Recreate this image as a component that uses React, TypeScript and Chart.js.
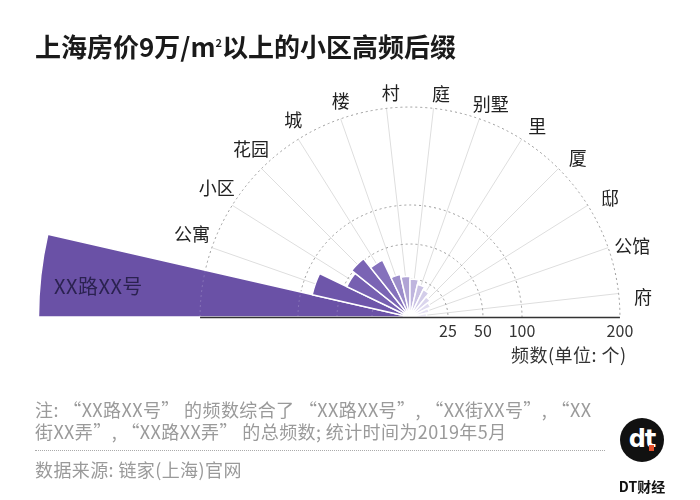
import React, { useEffect, useRef } from "react";
import { Chart, registerables } from "chart.js";

Chart.register(...registerables);

// ---- data ----
const categories = ["XX路XX号", "公寓", "小区", "花园", "城", "楼", "村", "庭", "别墅", "里", "厦", "邸", "公馆", "府"];
const frequencies = [365, 85, 48, 52, 43, 29, 27, 25, 22, 20, 17, 15, 13, 11];
const wedgeColors = [
  "#6a51a6", "#6e56aa", "#7760b1", "#7a64b4", "#8571bc", "#9c8dca", "#b0a4d5",
  "#bfb5de", "#cac2e4", "#d3cde9", "#dad5ed", "#e0dcf0", "#e5e1f3", "#eae7f5",
];
const tickValues = [25, 50, 100, 200];
// the source uses an irregular radial axis: value breakpoints and where they sit on the axis
const axisValues = [0, 25, 50, 100, 200];
const axisStops = [0, 36.2, 69.5, 106.7, 200];
const AXIS_MAX = 362;

function toAxis(v: number): number {
  for (let i = 1; i < axisValues.length; i++) {
    if (v <= axisValues[i]) {
      const t = (v - axisValues[i - 1]) / (axisValues[i] - axisValues[i - 1]);
      return axisStops[i - 1] + t * (axisStops[i] - axisStops[i - 1]);
    }
  }
  const n = axisValues.length - 1;
  const slope = (axisStops[n] - axisStops[n - 1]) / (axisValues[n] - axisValues[n - 1]);
  return axisStops[n] + (v - axisValues[n]) * slope;
}

const FONT = '"Noto Sans CJK SC", "Noto Sans", sans-serif';

const fanPlugin = {
  id: "fanGrid",
  beforeDatasetsDraw(chart: any) {
    const s = chart.scales.r;
    const ctx = chart.ctx;
    const cx = s.xCenter;
    const cy = s.yCenter;
    const n = categories.length;
    const step = Math.PI / n;
    const rOuter = s.getDistanceFromCenterForValue(toAxis(tickValues[tickValues.length - 1]));
    ctx.save();
    ctx.strokeStyle = "#dedede";
    ctx.lineWidth = 1;
    for (let i = 0; i < n; i++) {
      const a = Math.PI + (i + 0.5) * step;
      ctx.beginPath();
      ctx.moveTo(cx, cy);
      ctx.lineTo(cx + Math.cos(a) * rOuter, cy + Math.sin(a) * rOuter);
      ctx.stroke();
    }
    ctx.setLineDash([2, 3]);
    ctx.strokeStyle = "#9a9a9a";
    tickValues.forEach((v) => {
      const r = s.getDistanceFromCenterForValue(toAxis(v));
      ctx.beginPath();
      ctx.arc(cx, cy, r, Math.PI, 2 * Math.PI);
      ctx.stroke();
    });
    ctx.restore();
  },
  afterDatasetsDraw(chart: any) {
    const s = chart.scales.r;
    const ctx = chart.ctx;
    const cx = s.xCenter;
    const cy = s.yCenter;
    const n = categories.length;
    const step = Math.PI / n;
    const rOuter = s.getDistanceFromCenterForValue(toAxis(tickValues[tickValues.length - 1]));
    ctx.save();
    // faint rings showing through the bars
    ctx.setLineDash([2, 3]);
    ctx.strokeStyle = "rgba(255,255,255,0.18)";
    ctx.lineWidth = 1;
    tickValues.forEach((v) => {
      const r = s.getDistanceFromCenterForValue(toAxis(v));
      ctx.beginPath();
      ctx.arc(cx, cy, r, Math.PI, Math.PI + step);
      ctx.stroke();
    });
    ctx.setLineDash([]);
    // baseline
    ctx.strokeStyle = "#333";
    ctx.lineWidth = 1.5;
    ctx.beginPath();
    ctx.moveTo(cx - rOuter, cy + 0.5);
    ctx.lineTo(cx + rOuter, cy + 0.5);
    ctx.stroke();
    // tick labels
    ctx.fillStyle = "#333";
    ctx.font = `16px ${FONT}`;
    ctx.textAlign = "center";
    ctx.textBaseline = "middle";
    tickValues.forEach((v) => {
      const r = s.getDistanceFromCenterForValue(toAxis(v));
      ctx.fillText(String(v), cx + r, cy + 14);
    });
    // category labels
    ctx.fillStyle = "#222";
    ctx.font = `18px ${FONT}`;
    for (let i = 1; i < n; i++) {
      const a = Math.PI + (i + 0.5) * step + (1.5 * Math.PI) / 180;
      const rr = rOuter + 14 + 10 * Math.abs(Math.cos(a));
      ctx.fillText(categories[i], cx + Math.cos(a) * rr, cy + Math.sin(a) * rr);
    }
    ctx.restore();
  },
};

export default function App() {
  const ref = useRef<HTMLCanvasElement | null>(null);
  useEffect(() => {
    if (!ref.current) return;
    const chart = new Chart(ref.current, {
      type: "polarArea",
      data: {
        labels: categories,
        datasets: [
          {
            data: frequencies.map(toAxis),
            backgroundColor: wedgeColors,
            borderColor: "#ffffff",
            borderWidth: 1.5,
            angle: 180 / categories.length,
            clip: false,
          } as any,
        ],
      },
      options: {
        responsive: false,
        animation: false,
        layout: { padding: 0 },
        plugins: { legend: { display: false }, tooltip: { enabled: false } },
        scales: {
          r: {
            min: 0,
            max: AXIS_MAX,
            startAngle: -90,
            grid: { display: false },
            angleLines: { display: false },
            ticks: { display: false },
            pointLabels: { display: false },
          },
        },
      } as any,
      plugins: [fanPlugin],
    });
    return () => chart.destroy();
  }, []);

  return (
    <div
      style={{
        position: "fixed",
        left: 0,
        top: 0,
        width: 700,
        height: 500,
        overflow: "hidden",
        background: "#fff",
        fontFamily: FONT,
      }}
    >
      <canvas
        ref={ref}
        width={760}
        height={760}
        style={{ position: "absolute", left: 30, top: -63, width: 760, height: 760 }}
      />
      <div style={{ position: "absolute", left: 35, top: 27, fontSize: 26, fontWeight: 700, color: "#1a1a1a", whiteSpace: "nowrap" }}>
        上海房价9万/m<sup style={{ fontSize: 11, verticalAlign: "super", lineHeight: 0 }}>2</sup>以上的小区高频后缀
      </div>
      <div style={{ position: "absolute", left: 54, top: 271, fontSize: 20, color: "#2b2250", whiteSpace: "nowrap", letterSpacing: 0.5 }}>
        XX路XX号
      </div>
      <div style={{ position: "absolute", left: 511, top: 341, fontSize: 18, color: "#333", whiteSpace: "nowrap", letterSpacing: 0.5 }}>
        频数(单位: 个)
      </div>
      <div style={{ position: "absolute", left: 35, top: 398, fontSize: 18, lineHeight: "22px", color: "#9a9a9a", whiteSpace: "nowrap", letterSpacing: 0.4 }}>
        <div>注: “XX路XX号” 的频数综合了 “XX路XX号”, “XX街XX号”, “XX</div>
        <div>街XX弄”, “XX路XX弄” 的总频数; 统计时间为2019年5月</div>
      </div>
      <div style={{ position: "absolute", left: 35, top: 450, width: 570, borderTop: "1px dotted #aaa" }} />
      <div style={{ position: "absolute", left: 35, top: 456, fontSize: 18, color: "#9a9a9a", whiteSpace: "nowrap", letterSpacing: 0.4 }}>
        数据来源: 链家(上海)官网
      </div>
      <div
        style={{
          position: "absolute",
          left: 620,
          top: 418,
          width: 44,
          height: 44,
          borderRadius: "50%",
          background: "#111",
          color: "#fff",
          fontFamily: '"DejaVu Sans", sans-serif',
          fontWeight: 700,
          fontSize: 24,
          lineHeight: "42px",
          textAlign: "center",
          letterSpacing: -1,
        }}
      >
        dt
        <span style={{ position: "absolute", left: 29, top: 27, width: 5, height: 6, background: "#e8502a" }} />
      </div>
      <div style={{ position: "absolute", left: 610, top: 476, width: 64, textAlign: "center", fontSize: 14, fontWeight: 700, color: "#111" }}>
        DT财经
      </div>
    </div>
  );
}
